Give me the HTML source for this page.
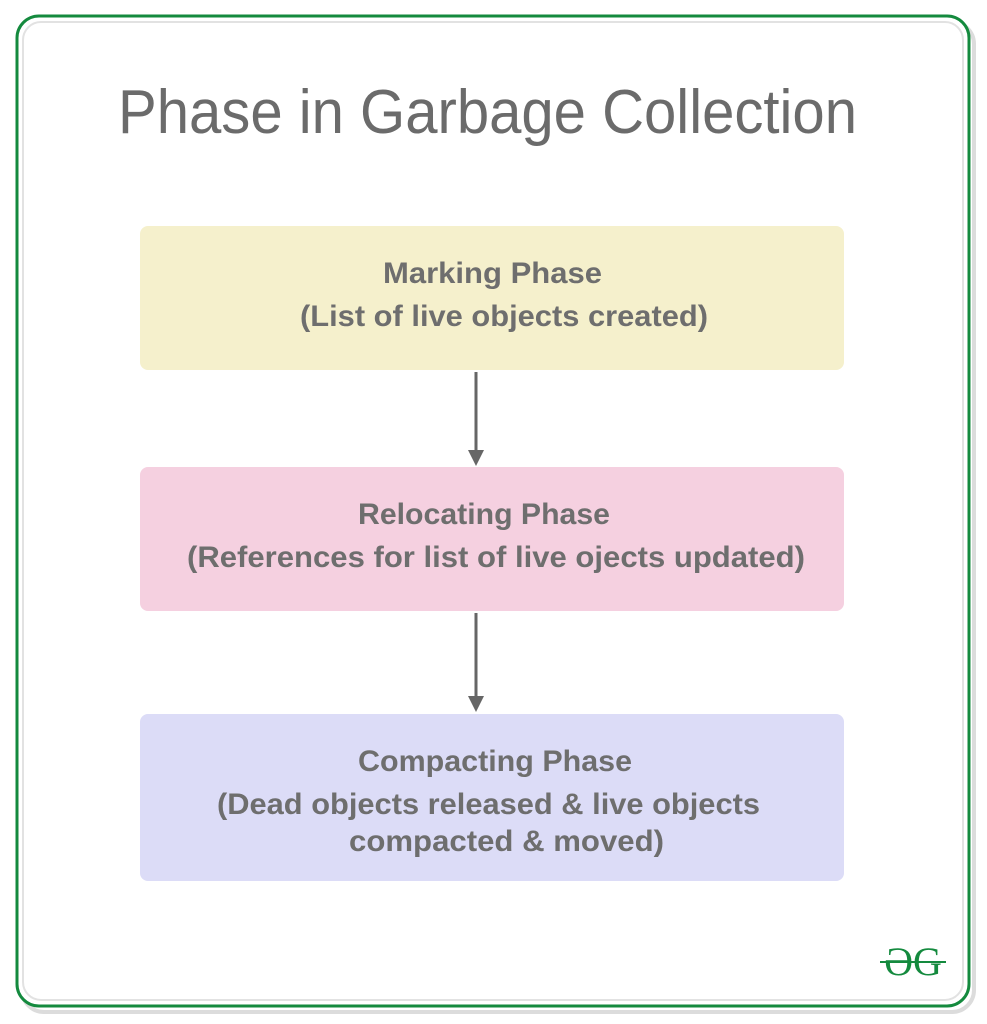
<!DOCTYPE html>
<html><head><style>body{margin:0;background:#fff}svg{display:block}</style></head>
<body>
<svg width="987" height="1024" viewBox="0 0 987 1024" xmlns="http://www.w3.org/2000/svg">
<rect x="22" y="22" width="952" height="990" rx="22" fill="none" stroke="#dcdcdc" stroke-width="4"/>
<rect x="17" y="16" width="952" height="990" rx="22" fill="#fff" stroke="#148a3e" stroke-width="3"/>
<rect x="23" y="22" width="940" height="978" rx="18" fill="none" stroke="#e2e2e2" stroke-width="2"/>
<g font-family="Liberation Sans, sans-serif" fill="#6b6b6b">
<text x="118" y="133" font-size="62" textLength="739" lengthAdjust="spacingAndGlyphs">Phase in Garbage Collection</text>
<rect x="140" y="226" width="704" height="144" rx="8" fill="#f5f0cc"/>
<rect x="140" y="467" width="704" height="144" rx="8" fill="#f5d0e0"/>
<rect x="140" y="714" width="704" height="167" rx="8" fill="#dcdcf7"/>
<g font-weight="bold" font-size="30" fill="#6e6e6e">
<text x="383" y="283" textLength="219" lengthAdjust="spacingAndGlyphs">Marking Phase</text>
<text x="300" y="326" textLength="408" lengthAdjust="spacingAndGlyphs">(List of live objects created)</text>
<text x="358" y="524" textLength="252" lengthAdjust="spacingAndGlyphs">Relocating Phase</text>
<text x="187" y="567" textLength="618" lengthAdjust="spacingAndGlyphs">(References for list of live ojects updated)</text>
<text x="358" y="771" textLength="274" lengthAdjust="spacingAndGlyphs">Compacting Phase</text>
<text x="217" y="814" textLength="543" lengthAdjust="spacingAndGlyphs">(Dead objects released &amp; live objects</text>
<text x="349" y="851" textLength="315" lengthAdjust="spacingAndGlyphs">compacted &amp; moved)</text>
</g>
</g>
<g stroke="#666" stroke-width="3" fill="#666">
<line x1="476" y1="372" x2="476" y2="452"/>
<polygon points="468,450 484,450 476,466" stroke="none"/>
<line x1="476" y1="613" x2="476" y2="698"/>
<polygon points="468,696 484,696 476,712" stroke="none"/>
</g>
<text x="913" y="975" font-family="Liberation Serif, serif" font-size="40" fill="#148a3e" text-anchor="middle">ƏG</text>
<line x1="880" y1="962" x2="946" y2="962" stroke="#148a3e" stroke-width="2"/>
</svg>
</body></html>
